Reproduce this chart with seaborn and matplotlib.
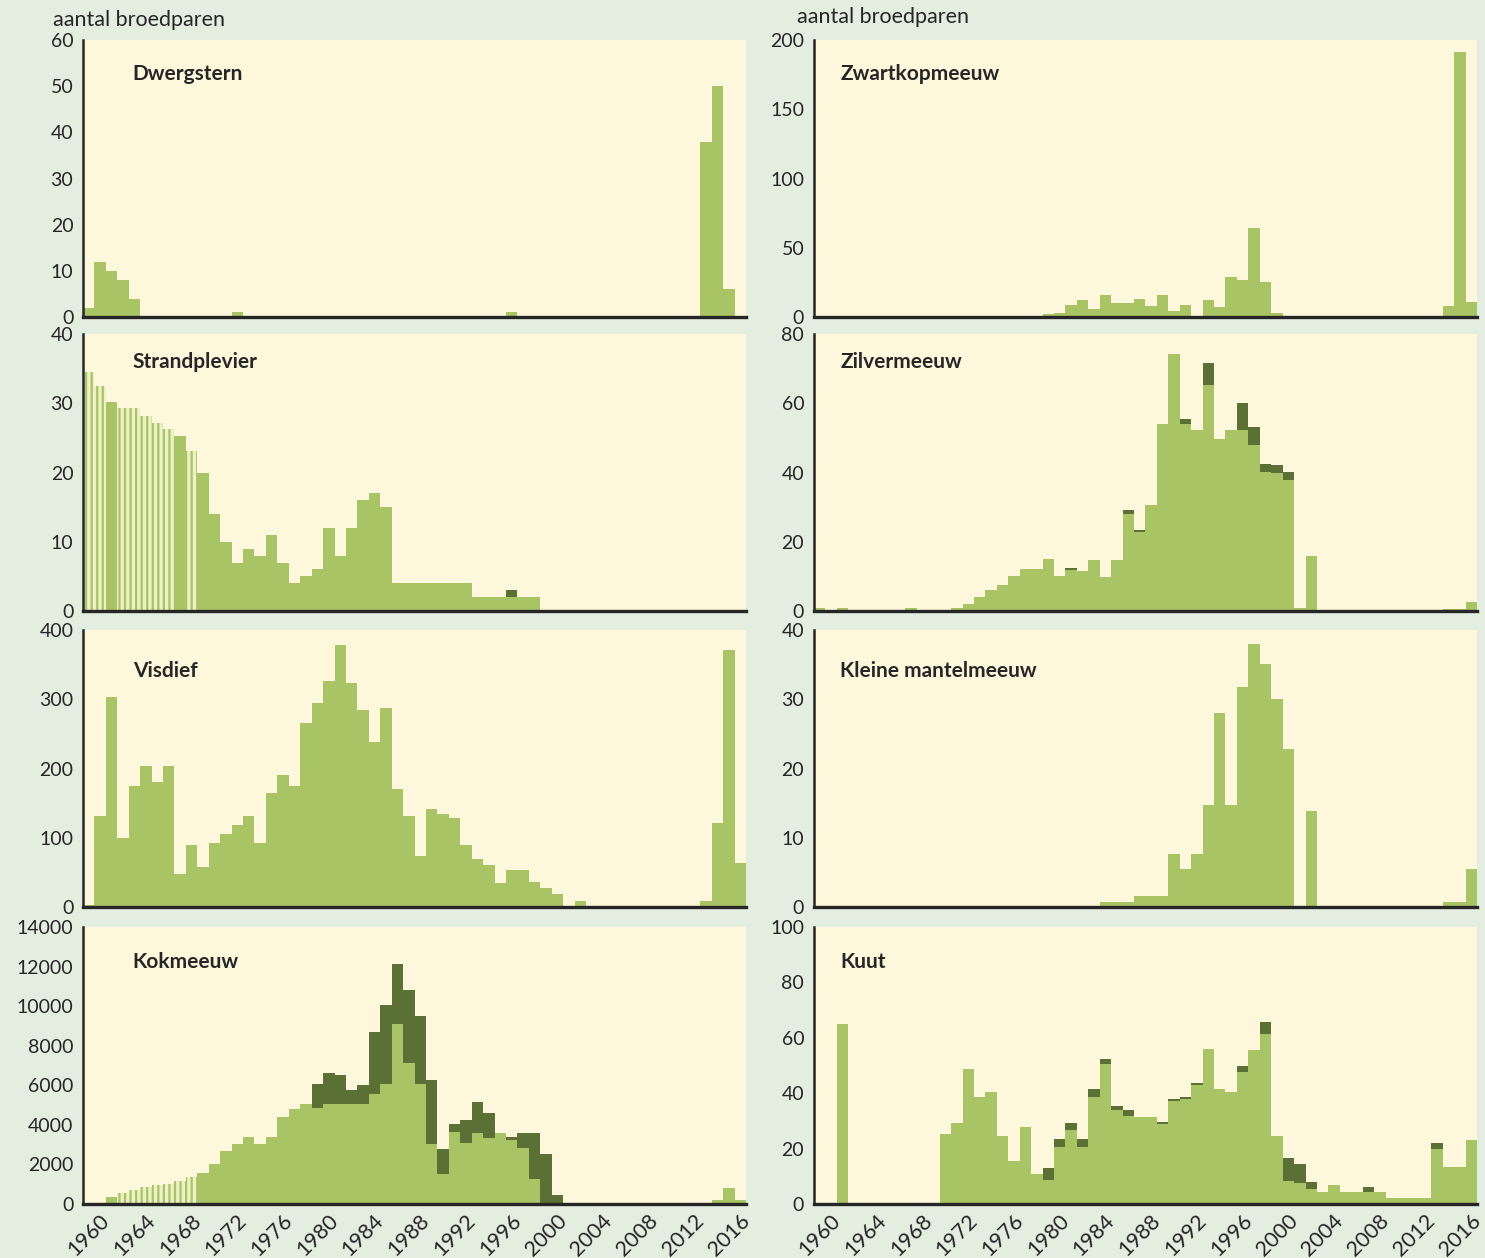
"""Broedparen per soort, 1960-2017: acht staafdiagrammen in twee kolommen."""
import matplotlib
matplotlib.use('Agg')
import matplotlib.pyplot as plt
import numpy as np
import pandas as pd
import seaborn as sns

YEARS = list(range(1960, 2018))

LIGHT = '#a8c465'
DARK = '#5b7035'
PALE = '#eef0c8'
FIG_BG = '#e3ede0'
AX_BG = '#fdf8db'

# values per year 1960..2017 (light = main part, dark = stacked top part)
dwergstern = ([2, 12, 10, 8, 4, 0, 0, 0, 0, 0]
              + [0, 0, 0, 1, 0, 0, 0, 0, 0, 0]
              + [0, 0, 0, 0, 0, 0, 0, 0, 0, 0]
              + [0, 0, 0, 0, 0, 0, 0, 1, 0, 0]
              + [0, 0, 0, 0, 0, 0, 0, 0, 0, 0]
              + [0, 0, 0, 0, 38, 50, 6, 0])

zwartkopmeeuw = ([0, 0, 0, 0, 0, 0, 0, 1, 1, 1]
                 + [1, 1, 0, 0, 1, 1, 0, 1, 0, 1]
                 + [2, 3, 9, 12, 6, 16, 10, 10, 13, 8]
                 + [16, 4, 9, 1, 12, 7, 29, 27, 64, 25]
                 + [3, 0, 0, 0, 0, 0, 0, 0, 0, 0]
                 + [0, 0, 0, 0, 0, 8, 191, 11])

strandplevier = ([34.5, 32.5, 30.2, 29.3, 29.3, 28.2, 27.2, 26.3, 25.2, 23.1]
                 + [20, 14, 10, 7, 9, 8, 11, 7, 4, 5]
                 + [6, 12, 8, 12, 16, 17, 15, 4, 4, 4]
                 + [4, 4, 4, 4, 2, 2, 2, 2, 2, 2]
                 + [0, 0, 0, 0, 0, 0, 0, 0, 0, 0]
                 + [0, 0, 0, 0, 0, 0, 0, 0])
strandplevier_dark = {1997: 1}
strandplevier_est = [1960, 1961, 1963, 1964, 1965, 1966, 1967, 1969]

zilvermeeuw = ([1, 0, 1, 0, 0, 0, 0, 0, 1, 0]
               + [0, 0, 1, 2, 4, 6, 7.5, 10, 12, 12]
               + [15, 10, 11.7, 11.5, 14.6, 9.8, 14.6, 27.9, 22.8, 30.6]
               + [54, 74.3, 54, 52.2, 65.4, 49.8, 52.2, 52.4, 47.9, 40.2]
               + [39.9, 37.7, 1, 15.9, 0, 0, 0, 0, 0, 0]
               + [0, 0, 0, 0, 0, 0.7, 0.7, 2.7])
zilvermeeuw_dark = {1982: 0.6, 1987: 1.2, 1988: 0.7, 1992: 1.5, 1994: 6.2,
                    1997: 7.7, 1998: 5.1, 1999: 2.3, 2000: 2.2, 2001: 2.5}

visdief = ([3, 131, 303, 100, 175, 203, 181, 203, 48, 90]
           + [58, 93, 106, 118, 132, 92, 164, 191, 175, 265]
           + [294, 327, 378, 323, 284, 239, 287, 171, 131, 74]
           + [141, 135, 128, 89, 70, 60, 35, 54, 54, 36]
           + [27, 19, 0, 8, 0, 0, 2, 0, 0, 0]
           + [0, 0, 0, 0, 8, 122, 371, 64])

kleine_mantelmeeuw = ([0, 0, 0, 0, 0, 0, 0, 0, 0, 0]
                      + [0, 0, 0, 0, 0, 0, 0, 0, 0, 0]
                      + [0, 0, 0, 0, 0, 0.7, 0.7, 0.7, 1.6, 1.6]
                      + [1.6, 7.7, 5.5, 7.7, 14.8, 28, 14.8, 31.8, 38, 35.1]
                      + [30, 22.8, 0, 13.8, 0, 0, 0, 0, 0, 0]
                      + [0, 0, 0, 0, 0, 0.7, 0.7, 5.5])

kokmeeuw = ([0, 0, 336, 550, 720, 840, 940, 1030, 1150, 1350]
            + [1563, 2017, 2689, 3042, 3378, 3042, 3378, 4387, 4790, 5059]
            + [4874, 5042, 5042, 5042, 5042, 5546, 6067, 9092, 7109, 6067]
            + [3042, 1529, 3664, 3109, 3580, 3328, 3580, 3244, 2824, 1260]
            + [0, 0, 0, 0, 0, 0, 0, 0, 0, 0]
            + [0, 0, 0, 0, 0, 185, 807, 185])
kokmeeuw_dark = {1980: 1193, 1981: 1563, 1982: 1479, 1983: 723, 1984: 958,
                 1985: 3126, 1986: 4017, 1987: 3059, 1988: 3731, 1989: 3429,
                 1990: 3227, 1991: 1244, 1992: 386, 1993: 1143, 1994: 1596,
                 1995: 1260, 1997: 134, 1998: 756, 1999: 2320, 2000: 2538,
                 2001: 437}
kokmeeuw_est = [1963, 1964, 1965, 1966, 1967, 1968, 1969]

kuut = ([0, 0, 65, 0, 0, 0, 0, 0, 0, 0]
        + [0, 25.2, 29.2, 48.8, 38.7, 40.5, 24.4, 15.5, 27.7, 11]
        + [8.7, 20.6, 26.8, 20.6, 38.7, 50.4, 33.9, 31.8, 31.5, 31.5]
        + [28.8, 37.3, 37.9, 42.9, 56, 41.4, 40.5, 47.6, 55.7, 61.5]
        + [24.4, 8.3, 7.5, 5.6, 4.2, 6.8, 4.4, 4.4, 4.4, 4.4]
        + [2.3, 2.3, 2.3, 2.3, 19.9, 13.5, 13.5, 23])
kuut_dark = {1980: 4.4, 1981: 2.9, 1982: 2.4, 1983: 2.9, 1984: 2.7, 1985: 2,
             1986: 1.6, 1987: 2.1, 1990: 0.7, 1991: 0.6, 1992: 0.8, 1993: 0.8,
             1997: 2.4, 1999: 4.3, 2001: 8.4, 2002: 7.1, 2003: 2.4, 2008: 1.6,
             2014: 2.1}

# (name, light, dark, estimated years, ymax, ystep)
PANELS = [
    [('Dwergstern', dwergstern, {}, [], 60, 10),
     ('Zwartkopmeeuw', zwartkopmeeuw, {}, [], 200, 50)],
    [('Strandplevier', strandplevier, strandplevier_dark, strandplevier_est, 40, 10),
     ('Zilvermeeuw', zilvermeeuw, zilvermeeuw_dark, [], 80, 20)],
    [('Visdief', visdief, {}, [], 400, 100),
     ('Kleine mantelmeeuw', kleine_mantelmeeuw, {}, [], 40, 10)],
    [('Kokmeeuw', kokmeeuw, kokmeeuw_dark, kokmeeuw_est, 14000, 2000),
     ('Kuut', kuut, kuut_dark, [], 100, 20)],
]

ROW_BOTTOM = [0.748, 0.5143, 0.279, 0.0429]
ROW_HEIGHT = 0.2202
COL_LEFT = [0.0559, 0.5481]
COL_WIDTH = 0.4465
TITLE_X = [0.075, 0.04]
TITLE_Y = [0.877, 0.90, 0.852, 0.874]


def draw_panel(ax, name, light, dark, est, ymax, ystep, bottom_row, tx, ty):
    df = pd.DataFrame({'year': YEARS, 'light': light})
    df['dark'] = df['year'].map(dark).fillna(0)
    df['total'] = df['light'] + df['dark']

    sns.barplot(data=df, x='year', y='total', order=YEARS, color=DARK,
                saturation=1, width=1.0, linewidth=0, errorbar=None, ax=ax)
    n_before = len(ax.patches)
    sns.barplot(data=df, x='year', y='light', order=YEARS, color=LIGHT,
                saturation=1, width=1.0, linewidth=0, errorbar=None, ax=ax)
    light_bars = ax.patches[n_before:]
    for yr, bar in zip(YEARS, light_bars):
        if yr in est:
            bar.set_facecolor(PALE)
            bar.set_edgecolor(LIGHT)
            bar.set_hatch('|||')
            bar.set_linewidth(0)

    ax.set_facecolor(AX_BG)
    ax.set_xlim(-0.5, len(YEARS) - 0.5)
    ax.set_ylim(0, ymax)
    ax.set_yticks(np.arange(0, ymax + 1, ystep))
    ax.set_xlabel('')
    ax.set_ylabel('')
    sns.despine(ax=ax)
    ax.spines['bottom'].set_linewidth(2.4)
    ax.spines['left'].set_linewidth(1.8)

    ax.set_xticks(np.arange(0, len(YEARS), 4))
    if bottom_row:
        ax.set_xticklabels([str(y) for y in YEARS[::4]], rotation=45,
                           ha='center', fontsize=15.5)
    else:
        ax.set_xticklabels([])
    ax.set_xticks(np.arange(-0.5, len(YEARS), 1), minor=True)
    ax.tick_params(axis='x', which='major', length=0, pad=5)
    ax.tick_params(axis='x', which='minor', length=5, width=1, color='#c2c6b2')
    ax.tick_params(axis='y', length=4, width=1.2, labelsize=14, pad=3)

    ax.text(tx, ty, name, transform=ax.transAxes, fontsize=15,
            fontweight='bold', va='center', ha='left')


def main():
    sns.set_style('white')
    plt.rcParams['font.family'] = ['Lato', 'DejaVu Sans']
    plt.rcParams['hatch.linewidth'] = 1.6

    fig = plt.figure(figsize=(14.85, 12.58), dpi=100, facecolor=FIG_BG)
    for r, row in enumerate(PANELS):
        for c, (name, light, dark, est, ymax, ystep) in enumerate(row):
            ax = fig.add_axes([COL_LEFT[c], ROW_BOTTOM[r], COL_WIDTH, ROW_HEIGHT])
            draw_panel(ax, name, light, dark, est, ymax, ystep,
                       r == len(PANELS) - 1, TITLE_X[c], TITLE_Y[r])

    fig.text(0.0357, 0.984, 'aantal broedparen', fontsize=15.5, va='center')
    fig.text(0.537, 0.9865, 'aantal broedparen', fontsize=15.5, va='center')

    fig.savefig('out.png', dpi=100, facecolor=FIG_BG)


if __name__ == '__main__':
    main()
